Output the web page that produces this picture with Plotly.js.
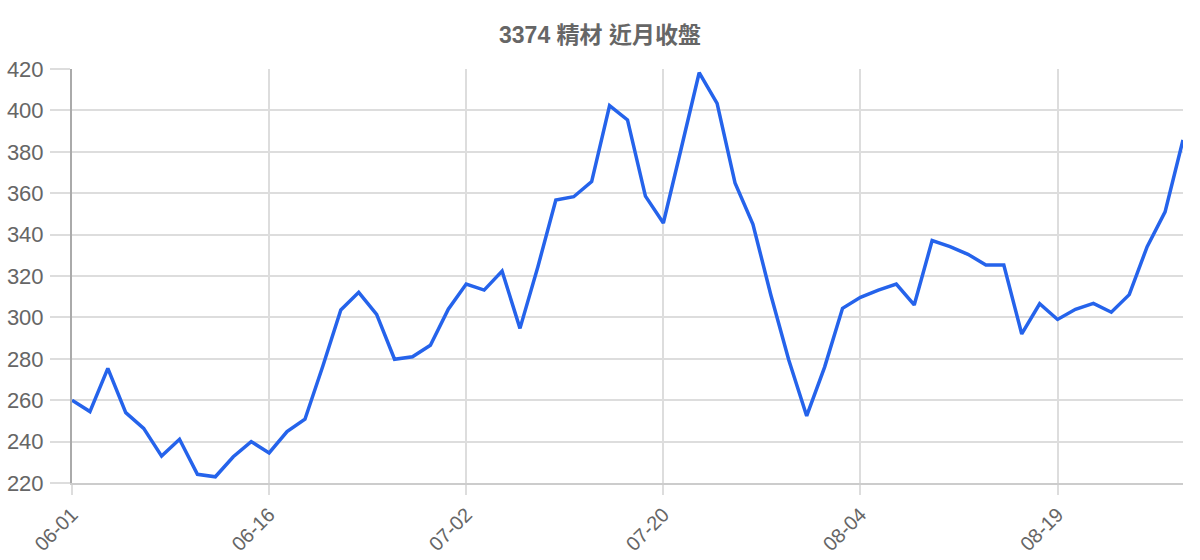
<!DOCTYPE html>
<html>
<head>
<meta charset="utf-8">
<script src="https://cdn.plot.ly/plotly-3.0.1.min.js"></script>
<style>
  html, body { margin: 0; padding: 0; background: #fff; }
  #chart { width: 1200px; height: 560px; }
</style>
</head>
<body>
<div id="chart"></div>
<script>
// 3374 精材 近月收盤
const dates = [
  "06-01", "06-02", "06-03", "06-04", "06-07", "06-08", "06-09", "06-10", "06-11", "06-14", "06-15",
  "06-16", "06-17", "06-18", "06-21", "06-22", "06-23", "06-24", "06-25", "06-28", "06-29", "06-30",
  "07-02", "07-05", "07-06", "07-07", "07-08", "07-09", "07-12", "07-13", "07-14", "07-15", "07-19",
  "07-20", "07-21", "07-22", "07-23", "07-26", "07-27", "07-28", "07-29", "07-30", "08-02", "08-03",
  "08-04", "08-05", "08-06", "08-09", "08-10", "08-11", "08-12", "08-13", "08-16", "08-17", "08-18",
  "08-19", "08-20", "08-23", "08-24", "08-25", "08-26", "08-27", "08-30",
];
const closes = [
  260.0, 254.5, 275.4, 254.0, 246.4, 233.0, 241.1, 224.2, 223.0, 232.7, 240.0,
  234.5, 244.8, 250.8, 276.5, 303.6, 312.1, 301.5, 279.8, 281.0, 286.5, 304.0,
  316.1, 313.2, 322.4, 294.7, 324.5, 356.7, 358.3, 365.6, 402.3, 395.4, 358.6,
  345.6, 381.7, 418.2, 403.4, 365.0, 345.0, 310.8, 279.4, 252.4, 276.0, 304.4,
  309.7, 313.2, 316.1, 306.0, 337.1, 334.2, 330.5, 325.3, 325.3, 292.0, 306.6,
  299.0, 303.9, 306.8, 302.5, 311.0, 334.2, 351.0, 385.7,
];
const tickDates = ["06-01", "06-16", "07-02", "07-20", "08-04", "08-19"];
const yTicks = [220, 240, 260, 280, 300, 320, 340, 360, 380, 400, 420];

const INK = "#666666";
const GRID = "#dddddd";
const FONT = '"Liberation Sans", Arial, "Noto Sans CJK TC", sans-serif';

const traces = [
  {
    x: dates,
    y: closes,
    type: "scatter",
    mode: "lines",
    name: "收盤",
    line: { color: "#2563eb", width: 3.5 },
    hovertemplate: "%{x}<br>%{y}<extra></extra>",
  },
];

const layout = {
  width: 1200,
  height: 560,
  paper_bgcolor: "#ffffff",
  plot_bgcolor: "#ffffff",
  margin: { l: 72, r: 17, t: 69, b: 77 },
  showlegend: false,
  font: { family: FONT, size: 22, color: INK },
  title: {
    text: "<b>3374 精材 近月收盤</b>",
    x: 0.5,
    xanchor: "center",
    y: 0.938,
    yanchor: "middle",
    font: { family: '"Liberation Sans", "Noto Sans CJK TC", sans-serif', size: 23, color: INK },
  },
  xaxis: {
    type: "category",
    range: [0, dates.length - 1],
    tickmode: "array",
    tickvals: tickDates,
    ticktext: tickDates,
    tickangle: -45,
    ticks: "outside",
    ticklen: 10,
    tickcolor: GRID,
    tickwidth: 2,
    showgrid: true,
    gridcolor: GRID,
    gridwidth: 2,
    showline: true,
    linecolor: "#cccccc",
    linewidth: 2,
    zeroline: false,
    tickfont: { family: FONT, size: 20, color: INK },
  },
  yaxis: {
    range: [220, 420],
    tickmode: "array",
    tickvals: yTicks,
    ticks: "outside",
    ticklen: 20,
    tickcolor: GRID,
    tickwidth: 2,
    showgrid: true,
    gridcolor: GRID,
    gridwidth: 2,
    showline: true,
    linecolor: "#aaaaaa",
    linewidth: 2,
    zeroline: false,
    ticklabelstandoff: 2,
    tickfont: { family: FONT, size: 22, color: INK },
  },
};

Plotly.newPlot("chart", traces, layout, { displayModeBar: false, responsive: false });
</script>
</body>
</html>
